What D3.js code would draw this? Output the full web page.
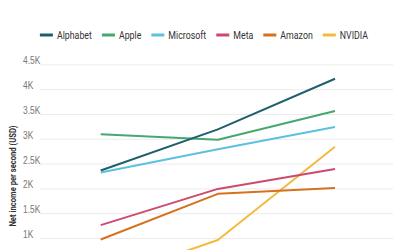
<!DOCTYPE html>
<html>
<head>
<meta charset="utf-8">
<script src="https://cdn.jsdelivr.net/npm/d3@7"></script>
<style>
  body { margin: 0; background: #fff; }
  svg { display: block; font-family: "Roboto", sans-serif; }
</style>
</head>
<body>
<div id="vis"></div>
<script>
// Frame
const FRAME_WIDTH = 400;
const FRAME_HEIGHT = 250;
const SQUEEZE = 0.84; // fake a condensed face

// Data
const years = ["2023", "2024", "2025"];
const companies = ["Alphabet", "Apple", "Microsoft", "Meta", "Amazon", "NVIDIA"];
const colors = ["#1f5f6c", "#45a86e", "#5cc0df", "#cc4a6e", "#d5711f", "#f2ba3e"];
const alphabet = [2.36, 3.19, 4.21];
const apple = [3.09, 2.98, 3.56];
const microsoft = [2.32, 2.79, 3.24];
const meta = [1.26, 1.99, 2.39];
const amazon = [0.97, 1.89, 2.01];
const nvidia = [0.14, 0.96, 2.84];
const yTicks = [1, 1.5, 2, 2.5, 3, 3.5, 4, 4.5];
const yTickLabels = ["1K", "1.5K", "2K", "2.5K", "3K", "3.5K", "4K", "4.5K"];

const series = [alphabet, apple, microsoft, meta, amazon, nvidia];

const FRAME = d3.select("#vis")
                .append("svg")
                  .attr("width", FRAME_WIDTH)
                  .attr("height", FRAME_HEIGHT);

// Scales (plot continues below the visible crop)
const X_SCALE = d3.scalePoint()
                  .domain(years)
                  .range([100.7, 335]);

const Y_SCALE = d3.scaleLinear()
                  .domain([1, 4.5])
                  .range([238, 64.4]);

// gridlines
const yAxis = d3.axisLeft(Y_SCALE)
                .tickValues(yTicks)
                .tickSize(-(393 - 40))
                .tickFormat((d, i) => yTickLabels[i]);

const gAxis = FRAME.append("g")
                   .attr("transform", "translate(40,0)")
                   .call(yAxis);
gAxis.select(".domain").remove();
gAxis.selectAll(".tick line")
     .attr("stroke", "#ebebeb")
     .attr("stroke-width", 1);
gAxis.selectAll(".tick text")
     .attr("x", null)
     .attr("dy", null)
     .attr("transform", "translate(-17,-0.5) scale(" + SQUEEZE + ",1)")
     .attr("text-anchor", "start")
     .attr("fill", "#777")
     .attr("font-size", "10px");

// y axis title
FRAME.append("text")
     .attr("transform", "translate(16,176) rotate(-90) scale(0.78,1)")
     .attr("text-anchor", "middle")
     .attr("font-size", "9.8px")
     .attr("font-weight", "bold")
     .attr("fill", "#333")
     .text("Net income per second (USD)");

// lines
const line = d3.line()
               .x((d, i) => X_SCALE(years[i]))
               .y(d => Y_SCALE(d));

// draw in reverse so the first series sits on top
FRAME.selectAll(".series")
     .data(series.map((s, i) => ({values: s, color: colors[i]})).reverse())
     .enter()
     .append("path")
       .attr("class", "series")
       .attr("d", d => line(d.values))
       .attr("fill", "none")
       .attr("stroke", d => d.color)
       .attr("stroke-width", 2)
       .attr("stroke-linejoin", "round");

// legend
const GAP = 10;
const legend = FRAME.append("g");
let lx = 0;
companies.forEach((c, i) => {
  const item = legend.append("g").attr("transform", "translate(" + lx + ",0)");
  item.append("line")
      .attr("x1", 0).attr("x2", 13)
      .attr("y1", 0).attr("y2", 0)
      .attr("stroke", colors[i])
      .attr("stroke-width", 3);
  const t = item.append("text")
      .attr("transform", "translate(17,0) scale(" + SQUEEZE + ",1)")
      .attr("dy", "0.35em")
      .attr("font-size", "10.5px")
      .attr("fill", "#333")
      .text(c);
  lx += 17 + t.node().getComputedTextLength() * SQUEEZE + GAP;
});
const legendWidth = lx - GAP;
legend.attr("transform", "translate(" + (204 - legendWidth / 2) + ",35)");
</script>
</body>
</html>
